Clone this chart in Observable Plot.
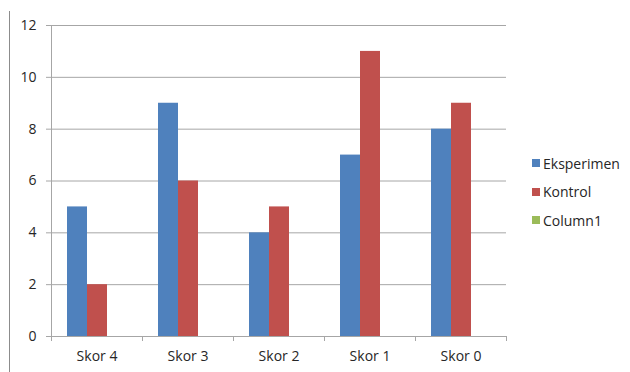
<!DOCTYPE html>
<html>
<head>
<meta charset="utf-8">
<script src="https://cdn.jsdelivr.net/npm/d3@7"></script>
<script src="https://cdn.jsdelivr.net/npm/@observablehq/plot@0.6"></script>
<style>
  html, body { margin: 0; padding: 0; background: #fff; }
  #wrap { position: relative; width: 630px; height: 372px; overflow: hidden; font-family: "Open Sans", sans-serif; }
  #border { position: absolute; left: 9px; top: 11px; width: 1px; height: 361px; background: #8c8c8c; }
  #legend { position: absolute; left: 532px; top: 149px; font-size: 14px; color: #262626; }
  .item { height: 28.5px; display: flex; align-items: center; white-space: nowrap; }
  .sw { width: 8px; height: 8px; margin-right: 3px; flex: none; }
</style>
</head>
<body>
<div id="wrap"><div id="border"></div><div id="legend"></div></div>
<script>
const categories = ["Skor 4", "Skor 3", "Skor 2", "Skor 1", "Skor 0"];
const series = ["Eksperimen", "Kontrol", "Column1"];
const eksperimen = [5, 9, 4, 7, 8];
const kontrol = [2, 6, 5, 11, 9];
const column1 = [null, null, null, null, null];
const colors = ["#4F81BD", "#C0504D", "#9BBB59"];
const yTicks = [0, 2, 4, 6, 8, 10, 12];

const seriesValues = [eksperimen, kontrol, column1];
const data = categories.flatMap((c, i) =>
  seriesValues.map((arr, j) => ({category: c, series: series[j], value: arr[i]}))
).filter(d => d.value != null);

const gridColor = "#a6a6a6";

const plot = Plot.plot({
  width: 630,
  height: 372,
  marginLeft: 50,
  marginRight: 123,
  marginTop: 25,
  marginBottom: 36,
  style: {fontFamily: "Open Sans, sans-serif", fontSize: "14px", color: "#262626", background: "transparent"},
  fx: {domain: categories, paddingInner: 0, paddingOuter: 0, label: null},
  x: {domain: series, paddingInner: 0, paddingOuter: 0.75, axis: null},
  y: {domain: [0, 12], ticks: yTicks, label: null},
  color: {domain: series, range: colors},
  marks: [
    Plot.gridY(yTicks, {stroke: gridColor, strokeOpacity: 1}),
    Plot.barY(data, {fx: "category", x: "series", y: "value", fill: "series"}),
    Plot.axisY(yTicks, {tickSize: 5, tickPadding: 10, stroke: gridColor, fill: "#262626", label: null}),
    Plot.axisFx({anchor: "bottom", tickSize: 0, tickPadding: 15, fill: "#262626", label: null})
  ]
});

// category boundary ticks and y-axis line, positioned with Plot's own scales
const fx = plot.scale("fx");
const y = plot.scale("y");
const svg = d3.select(plot);
const bounds = categories.map(c => fx.apply(c));
bounds.push(fx.apply(categories[categories.length - 1]) + fx.bandwidth);
const y0 = y.apply(0), yTop = y.apply(12);
const g = svg.append("g").attr("stroke", gridColor).attr("shape-rendering", "crispEdges");
bounds.forEach((bx, i) => {
  g.append("line")
    .attr("x1", Math.round(bx) + 0.5).attr("x2", Math.round(bx) + 0.5)
    .attr("y1", i === 0 ? yTop : y0).attr("y2", y0 + 5);
});

document.getElementById("wrap").appendChild(plot);
plot.style.position = "absolute";
plot.style.left = "0";
plot.style.top = "0";

const legend = d3.select("#legend");
series.forEach((s, i) => {
  const item = legend.append("div").attr("class", "item");
  item.append("div").attr("class", "sw").style("background", colors[i]);
  item.append("span").text(s);
});
</script>
</body>
</html>
